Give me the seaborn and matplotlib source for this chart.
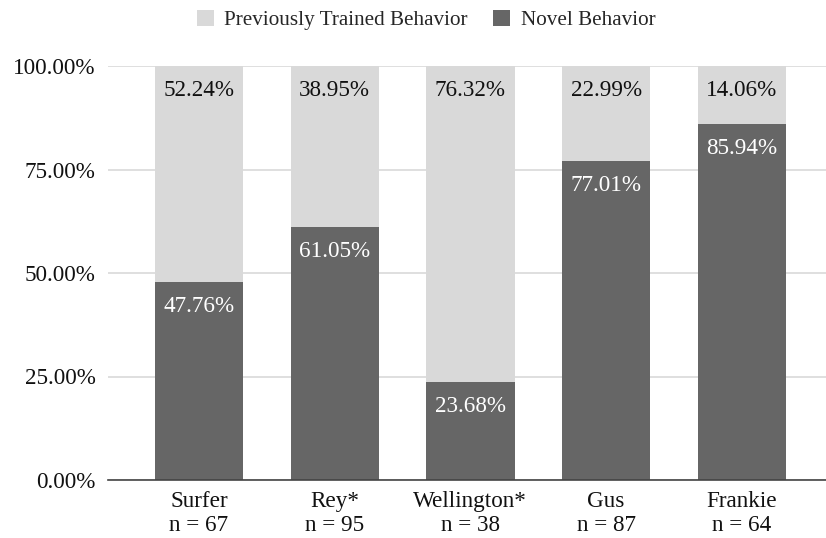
import matplotlib
matplotlib.use("Agg")
import matplotlib.pyplot as plt
from matplotlib.patches import Patch
import seaborn as sns
import pandas as pd

names = ["Surfer", "Rey*", "Wellington*", "Gus", "Frankie"]
n_values = [67, 95, 38, 87, 64]
novel = [47.76, 61.05, 23.68, 77.01, 85.94]
trained = [52.24, 38.95, 76.32, 22.99, 14.06]
y_ticks = [0, 25, 50, 75, 100]

labels = [f"{a}\nn = {b}" for a, b in zip(names, n_values)]
df = pd.DataFrame({"label": labels, "novel": novel, "trained": trained})
df["total"] = df["novel"] + df["trained"]

sns.set_theme(style="white")
plt.rcParams["font.family"] = ["Liberation Serif", "DejaVu Serif"]

LIGHT = "#d9d9d9"
DARK = "#666666"
FS = 16.7

fig = plt.figure(figsize=(8.26, 5.38), dpi=100)
ax = fig.add_axes([108 / 826, 1 - 480 / 538, (826 - 108) / 826, (480 - 66) / 538])

sns.barplot(data=df, x="label", y="total", color=LIGHT, width=0.65, ax=ax,
            saturation=1, edgecolor="none", zorder=2)
sns.barplot(data=df, x="label", y="novel", color=DARK, width=0.65, ax=ax,
            saturation=1, edgecolor="none", zorder=3)

ax.set_ylim(0, 100)
ax.set_xlim(-0.67, 4.62)
ax.set_yticks(y_ticks)
ax.set_yticklabels([f"{v:.2f}%" for v in y_ticks], fontsize=FS, color="#111111")
ax.tick_params(axis="x", labelsize=FS, colors="#111111", length=0, pad=8)
ax.tick_params(axis="y", length=0, pad=9)
ax.set_xlabel("")
ax.set_ylabel("")
for t in ax.get_xticklabels():
    t.set_linespacing(1.15)

ax.yaxis.grid(True, color="#d9d9d9", linewidth=1.2, zorder=0)
ax.set_axisbelow(True)
for s in ["left", "right", "top"]:
    ax.spines[s].set_visible(False)
ax.spines["bottom"].set_color("#444444")
ax.spines["bottom"].set_linewidth(1.2)
ax.spines["bottom"].set_zorder(5)

for i, (nv, tv) in enumerate(zip(novel, trained)):
    ax.annotate(f"{tv:.2f}%", (i, nv + tv), xytext=(0, -10), textcoords="offset points",
                ha="center", va="top", fontsize=FS, color="#111111", zorder=6)
    ax.annotate(f"{nv:.2f}%", (i, nv), xytext=(0, -10), textcoords="offset points",
                ha="center", va="top", fontsize=FS, color="white", zorder=6)

handles = [Patch(facecolor=LIGHT, edgecolor="none", label="Previously Trained Behavior"),
           Patch(facecolor=DARK, edgecolor="none", label="Novel Behavior")]
fig.legend(handles=handles, loc="center", bbox_to_anchor=(426 / 826, 1 - 20 / 538),
           ncol=2, frameon=False, fontsize=15.2, handlelength=0.8, handleheight=0.8,
           handletextpad=0.5, columnspacing=1.2)

fig.savefig("out.png", dpi=100)
